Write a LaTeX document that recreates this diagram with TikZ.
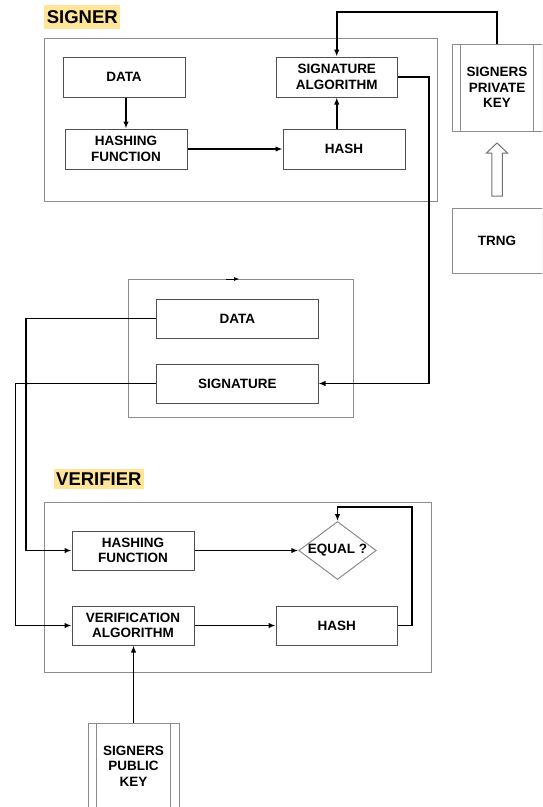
\documentclass[tikz,border=0pt]{standalone}
\usepackage{fontspec}
\setmainfont{Liberation Sans}
\usetikzlibrary{arrows.meta,shapes.geometric}
\definecolor{boxgray}{RGB}{80,80,80}
\definecolor{panelgray}{RGB}{140,140,140}
\definecolor{tagyellow}{RGB}{255,229,153}

\begin{document}
\begin{tikzpicture}[x=1pt, y=-1pt,
  block/.style={draw=boxgray, line width=1pt, minimum width=122pt, minimum height=39pt,
    inner sep=0pt, align=center, font=\fontsize{13.5}{15.5}\selectfont\bfseries},
  keybox/.style={block, draw=panelgray, minimum width=90pt, minimum height=87pt},
  panel/.style={draw=panelgray, line width=1pt},
  heading/.style={fill=tagyellow, anchor=west, inner xsep=2.6pt, inner ysep=0pt,
    font=\fontsize{18.5}{20}\selectfont\bfseries},
  conn/.style={-{Latex[length=7pt,width=5.5pt]}, line width=1.5pt},
  hollow/.style={draw=boxgray!80, line width=1pt, fill=white}]
  \useasboundingbox (0,0) rectangle (542,807);
  \clip (0,0) rectangle (542,807);

  \node[heading, minimum height=24pt] (signertag) at (44,17) {SIGNER};
  \draw[panel] (44,38) rectangle (437.6,201);

  \node[block, minimum height=40pt] (data1) at (124,77) {DATA};
  \node[block, minimum height=40pt] (hf1) at (126,149) {HASHING\\FUNCTION};
  \node[block, minimum height=40pt, minimum width=121.5pt] (sigalg) at (336.75,77) {SIGNATURE\\ALGORITHM};
  \node[block, minimum height=40pt] (hash1) at (344,149) {HASH};

  \node[keybox] (pk) at (497,87.5) {SIGNERS\\PRIVATE\\KEY};
  \node[keybox, minimum height=65pt] (trng) at (497,240.5) {TRNG};
  \draw[hollow] (491.75,196) -- (491.75,153) -- (486.5,153) -- (497,143)
    -- (507.5,153) -- (502.25,153) -- (502.25,196) -- cycle;

  \draw[panel] (128.6,279) rectangle (353,417);
  \draw[-{Latex[length=5pt,width=4pt]}, line width=0.6pt] (226,279) -- (239,279);
  \node[block, minimum width=161.4pt] (data2) at (237.3,318.5) {DATA};
  \node[block, minimum width=161.4pt] (sig2) at (237.3,383.5) {SIGNATURE};

  \node[heading, minimum height=20pt, inner xsep=2.4pt] (verifiertag) at (53.6,479) {VERIFIER};
  \draw[panel] (44,502) rectangle (431,672);

  \node[block] (hf2) at (133,550.5) {HASHING\\FUNCTION};
  \node[block] (verif) at (133,625.5) {VERIFICATION\\ALGORITHM};
  \node[block, draw=panelgray, shape=diamond, minimum width=77.5pt, minimum height=58pt,
    aspect=1.336] (eq) at (337.5,550.5) {EQUAL ?};
  \node[block, minimum width=121.5pt] (hash2) at (336.75,625.5) {HASH};

  \node[keybox, minimum width=91pt, minimum height=86pt] (pub) at (133.5,766) {SIGNERS\\PUBLIC\\KEY};

  \foreach \k in {pk,pub} {
    \draw[panelgray, line width=1pt] ([xshift=9pt]\k.north west) -- ([xshift=9pt]\k.south west);
    \draw[panelgray, line width=1pt] ([xshift=-9pt]\k.north east) -- ([xshift=-9pt]\k.south east);
  }

  \coordinate (keytop) at (497,12);
  \coordinate (loop) at (412,507);

  \draw[conn] (pk.north) -- (keytop) -| (sigalg.north);
  \draw[conn] (hf1.north |- data1.south) -- (hf1.north);
  \draw[conn] (hf1.east) -- (hash1.west);
  \draw[conn] (sigalg.south |- hash1.north) -- (sigalg.south);
  \draw[conn] (sigalg.east) -- ++(31,0) |- (sig2.east);

  \draw[conn] (data2.west) -- ++(-130,0) |- (hf2.west);
  \draw[conn] (sig2.west) -- ++(-140.6,0) |- (verif.west);
  \fill (26.6,383.5) circle (1.6pt);

  \draw[conn] (hf2.east) -- (eq.west);
  \draw[conn] (verif.east) -- (hash2.west);
  \draw[conn] (hash2.east) -| (loop) -| (eq.north);
  \draw[conn] (pub.north) -- (pub.north |- verif.south);
\end{tikzpicture}
\end{document}
